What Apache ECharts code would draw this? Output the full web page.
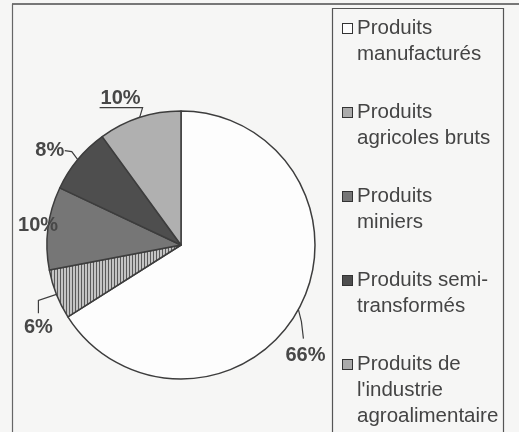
<!DOCTYPE html>
<html>
<head>
<meta charset="utf-8">
<script src="https://cdn.jsdelivr.net/npm/echarts@6/dist/echarts.min.js"></script>
<style>
  html, body { margin: 0; padding: 0; background: #f6f6f5; }
  #main { width: 519px; height: 432px; }
</style>
</head>
<body>
<div id="main"></div>
<script>
// données (en %)
var categories = [
  'Produits\nmanufacturés',
  'Produits\nagricoles bruts',
  'Produits\nminiers',
  'Produits semi-\ntransformés',
  'Produits de\nl\'industrie\nagroalimentaire'
];
var values = [66, 6, 10, 8, 10];

// motif hachuré vertical pour les produits agricoles bruts
var hatch = document.createElement('canvas');
hatch.width = 3; hatch.height = 3;
var hctx = hatch.getContext('2d');
hctx.fillStyle = '#c4c4c4';
hctx.fillRect(0, 0, 3, 3);
hctx.fillStyle = '#5a5a5a';
hctx.fillRect(0, 0, 1, 3);

var sliceColors = ['#fdfdfd', { image: hatch, repeat: 'repeat' }, '#767676', '#4e4e4e', '#b0b0b0'];
var swatchColors = ['#fdfdfd', '#ababab', '#767676', '#4e4e4e', '#ababab'];

var LH = 26;
var rich = { t: { fontSize: 20.5, lineHeight: LH, color: '#444' }, ind: { width: 14, lineHeight: LH } };
swatchColors.forEach(function (c, i) {
  rich['b' + i] = { width: 9, height: 9, backgroundColor: c, borderColor: '#333', borderWidth: 1, verticalAlign: 'middle', lineHeight: LH };
  rich['g' + i] = { width: 5, lineHeight: LH };
});

var myChart = echarts.init(document.getElementById('main'));
myChart.setOption({
  backgroundColor: '#f6f6f5',
  animation: false,
  graphic: [
    { type: 'line', shape: { x1: 12, y1: 4, x2: 519, y2: 4 }, style: { stroke: '#777', lineWidth: 2 } },
    { type: 'line', shape: { x1: 12.5, y1: 4, x2: 12.5, y2: 432 }, style: { stroke: '#666', lineWidth: 1.2 } },
    { type: 'rect', shape: { x: 332.5, y: 8.5, width: 171, height: 440 }, style: { fill: 'none', stroke: '#555', lineWidth: 1.2 } }
  ],
  legend: {
    orient: 'vertical',
    left: 337,
    top: 18,
    height: 700,
    padding: 0,
    itemWidth: 0,
    itemHeight: 0,
    itemGap: 37,
    selectedMode: false,
    formatter: function (name) {
      var i = categories.indexOf(name);
      var lines = name.split('\n');
      return lines.map(function (l, k) {
        return (k === 0 ? '{b' + i + '| }{g' + i + '| }' : '{ind| }') + '{t|' + l + '}';
      }).join('\n');
    },
    textStyle: { fontFamily: 'Liberation Sans, Arial, sans-serif', rich: rich }
  },
  series: [
    {
      type: 'pie',
      center: [181, 245],
      radius: 134,
      startAngle: 90,
      clockwise: true,
      avoidLabelOverlap: false,
      itemStyle: { borderColor: '#3d3d3d', borderWidth: 1.5 },
      label: {
        show: true,
        formatter: '{c}%',
        fontFamily: 'Liberation Sans, Arial, sans-serif',
        fontWeight: 'bold',
        fontSize: 20,
        color: '#474747'
      },
      labelLine: { show: true, lineStyle: { color: '#3d3d3d', width: 1.2 } },
      labelLayout: function (p) {
        var e = p.labelLinePoints[0];
        var x = e[0], y = e[1];
        var set = [
          { dx: 7, dy: 46, line: [[x, y], [x + 3, y + 12], [x + 5, y + 29]] },
          { dx: -18, dy: 33, line: [[x, y], [x - 18, y + 6], [x - 18, y + 19]] },
          { dx: -10, dy: -3, line: [[x, y], [x, y], [x, y]] },
          { dx: -28, dy: -9, line: [[x, y], [x - 6, y - 8], [x - 13, y - 9]] },
          { dx: -19, dy: -19, line: [[x, y], [x + 3, y - 10], [x - 40, y - 10]] }
        ][p.dataIndex];
        return {
          x: x + set.dx,
          y: y + set.dy,
          align: 'center',
          verticalAlign: 'middle',
          labelLinePoints: set.line
        };
      },
      data: categories.map(function (c, i) {
        return { name: c, value: values[i], itemStyle: { color: sliceColors[i] } };
      })
    }
  ]
});
</script>
</body>
</html>
